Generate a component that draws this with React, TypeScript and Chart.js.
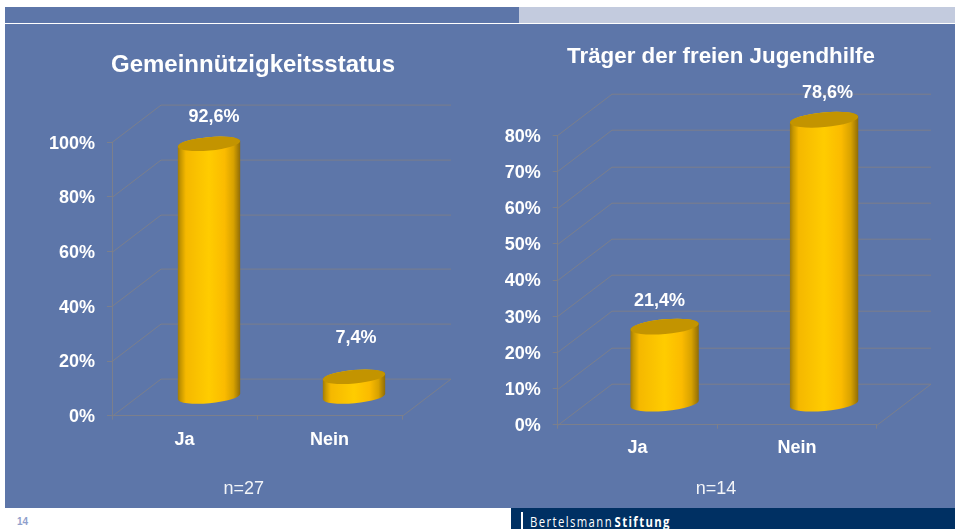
import React, { useEffect, useRef } from "react";
import { Chart, registerables } from "chart.js";

Chart.register(...registerables);

const categories = ["Ja", "Nein"];
const statusTitle = "Gemeinnützigkeitsstatus";
const statusValues = [92.6, 7.4];
const statusMax = 100;
const statusStep = 20;
const statusN = "n=27";
const traegerTitle = "Träger der freien Jugendhilfe";
const traegerValues = [21.4, 78.6];
const traegerMax = 80;
const traegerStep = 10;
const traegerN = "n=14";

const FONT = '"Liberation Sans", Arial, sans-serif';
const GRID = "#7b7f8c";
const WHITE = "#ffffff";

type Panel = {
  title: string;
  titleSize: number;
  values: number[];
  max: number;
  step: number;
  left: number;
  width: number;
  axisWidth: number;
  rightPad: number;
  xAxisHeight: number;
  xLabelPad: number;
  titleTop: number;
  titleBottom: number;
  dx: number;
  dy: number;
  barWidth: number;
  labelNudge: number[][];
};

const panelA: Panel = {
  title: statusTitle, titleSize: 24, values: statusValues, max: statusMax, step: statusStep,
  left: 5, width: 496, axisWidth: 107, rightPad: 99, xAxisHeight: 113.3, xLabelPad: 10,
  titleTop: 51, titleBottom: 62.5, dx: 49, dy: 37.4, barWidth: 61,
  labelNudge: [[5, -27], [2, -39]],
};
const panelB: Panel = {
  title: traegerTitle, titleSize: 22.35, values: traegerValues, max: traegerMax, step: traegerStep,
  left: 487, width: 468, axisWidth: 70.7, rightPad: 78.3, xAxisHeight: 104.3, xLabelPad: 9,
  titleTop: 43, titleBottom: 65.5, dx: 54.3, dy: 41.3, barWidth: 67,
  labelNudge: [[-5, -26], [3.5, -27]],
};

const depthPlugin = {
  id: "depth",
  beforeDatasetsDraw(chart: any, _a: any, o: any) {
    const { ctx } = chart;
    const xs = chart.scales.x;
    const ys = chart.scales.y;
    ctx.save();
    ctx.strokeStyle = GRID;
    ctx.lineWidth = 1;
    ctx.beginPath();
    ys.ticks.forEach((_t: any, i: number) => {
      const y = Math.round(ys.getPixelForTick(i)) + 0.5;
      ctx.moveTo(xs.left, y);
      ctx.lineTo(xs.left + o.dx, y - o.dy);
      ctx.lineTo(xs.right + o.dx, y - o.dy);
    });
    const y0 = Math.round(ys.bottom) + 0.5;
    ctx.moveTo(xs.right, y0);
    ctx.lineTo(xs.right + o.dx, y0 - o.dy);
    ctx.stroke();
    ctx.restore();
  },
  beforeDatasetDraw(chart: any, args: any, o: any) {
    const { ctx } = chart;
    const meta = chart.getDatasetMeta(args.index);
    meta.data.forEach((el: any) => {
      const { x, y, base, width } = el.getProps(["x", "y", "base", "width"], true);
      const cx = x + o.dx / 2;
      const top = y - o.dy / 2;
      const bottom = base - o.dy / 2;
      const rx = width / 2 + 0.8;
      const ry = width * 0.11;
      const rot = -0.09;
      const l = cx - rx;
      const g = ctx.createLinearGradient(l, 0, l + 2 * rx, 0);
      g.addColorStop(0, "#a07a08");
      g.addColorStop(0.05, "#c89800");
      g.addColorStop(0.13, "#f5b800");
      g.addColorStop(0.5, "#ffcc00");
      g.addColorStop(0.75, "#fbbb00");
      g.addColorStop(0.89, "#d8a200");
      g.addColorStop(1, "#8f6c08");
      ctx.save();
      ctx.beginPath();
      ctx.ellipse(cx, bottom, rx, ry, rot, 0, Math.PI);
      ctx.ellipse(cx, top, rx, ry, rot, Math.PI, Math.PI * 2);
      ctx.closePath();
      ctx.fillStyle = g;
      ctx.fill();
      ctx.beginPath();
      ctx.ellipse(cx, top, rx, ry, rot, 0, Math.PI * 2);
      ctx.fillStyle = el.options.backgroundColor;
      ctx.fill();
      ctx.restore();
    });
    return false;
  },
  afterDatasetsDraw(chart: any, _a: any, o: any) {
    const { ctx } = chart;
    const meta = chart.getDatasetMeta(0);
    ctx.save();
    ctx.font = `bold 18px ${FONT}`;
    ctx.fillStyle = WHITE;
    ctx.textAlign = "center";
    ctx.textBaseline = "middle";
    meta.data.forEach((el: any, i: number) => {
      const text = chart.data.datasets[0].data[i].toFixed(1).replace(".", ",") + "%";
      const [nx, ny] = o.labelNudge[i];
      ctx.fillText(text, el.x + o.dx / 2 + nx, el.y - o.dy / 2 + ny);
    });
    ctx.restore();
  },
};

function build(canvas: HTMLCanvasElement, p: Panel) {
  return new Chart(canvas, {
    type: "bar",
    data: {
      labels: categories,
      datasets: [{ data: p.values, backgroundColor: "#c39400", barThickness: p.barWidth, clip: false as any }],
    },
    plugins: [depthPlugin as any],
    options: {
      responsive: false,
      animation: false,
      layout: { padding: 0 },
      plugins: {
        legend: { display: false },
        tooltip: { enabled: false },
        title: {
          display: true,
          text: p.title,
          color: WHITE,
          font: { family: FONT, size: p.titleSize, weight: "bold", lineHeight: 1.2 },
          padding: { top: p.titleTop, bottom: p.titleBottom },
        },
        depth: { dx: p.dx, dy: p.dy, labelNudge: p.labelNudge },
      } as any,
      scales: {
        x: {
          afterFit: (s: any) => { s.height = p.xAxisHeight; },
          grid: { offset: true, drawOnChartArea: false, color: GRID, tickLength: 4 },
          border: { color: GRID },
          ticks: { color: WHITE, padding: p.xLabelPad, font: { family: FONT, size: 18, weight: "bold" } },
        },
        y: {
          min: 0,
          max: p.max,
          afterFit: (s: any) => { s.width = p.axisWidth; },
          grid: { drawOnChartArea: false, color: GRID, tickLength: 5 },
          border: { color: GRID },
          ticks: {
            stepSize: p.step,
            color: WHITE,
            padding: 12,
            labelOffset: 1.5,
            font: { family: FONT, size: 18, weight: "bold" },
            callback: (v: any) => `${v}%`,
          },
        },
        depthGutter: {
          position: "right",
          afterFit: (s: any) => { s.width = p.rightPad; },
          grid: { display: false },
          border: { display: false },
          ticks: { display: false },
        },
      },
    },
  });
}

const box = (left: number, top: number, width: number, height: number, background: string): React.CSSProperties => ({
  position: "absolute", left, top, width, height, background,
});

const noteStyle = (centerX: number): React.CSSProperties => ({
  position: "absolute", left: centerX - 50, width: 100, top: 478, textAlign: "center",
  font: `18px ${FONT}`, lineHeight: "21px", color: "#f2f4f8",
});

export default function App() {
  const a = useRef<HTMLCanvasElement>(null);
  const b = useRef<HTMLCanvasElement>(null);
  useEffect(() => {
    const c1 = build(a.current!, panelA);
    const c2 = build(b.current!, panelB);
    return () => { c1.destroy(); c2.destroy(); };
  }, []);
  return (
    <div style={{ position: "absolute", left: 0, top: 0, width: 955, height: 529, overflow: "hidden", background: "#fff" }}>
      <div style={box(5, 7, 514, 16, "#5d76a9")} />
      <div style={box(519, 7, 436, 16, "#c3cbde")} />
      <div style={box(5, 24, 950, 484, "#5d76a9")} />
      <div style={box(511, 508, 444, 21, "#003063")} />
      <div style={box(521, 512, 2, 17, "#fff")} />
      <div style={{ position: "absolute", left: 17, top: 516, font: `bold 10px ${FONT}`, color: "#8fa0cc" }}>14</div>
      <div style={{ position: "absolute", left: 530, top: 512.5, font: `14.5px "Open Sans"`, lineHeight: "17px", letterSpacing: "1.8px", color: "#fff", whiteSpace: "nowrap", transform: "scaleX(0.78)", transformOrigin: "left top" }}>
        Bertelsmann<b style={{ marginLeft: 2 }}>Stiftung</b>
      </div>
      <canvas ref={a} width={panelA.width} height={529} style={{ position: "absolute", left: panelA.left, top: 0 }} />
      <canvas ref={b} width={panelB.width} height={529} style={{ position: "absolute", left: panelB.left, top: 0 }} />
      <div style={noteStyle(243.7)}>{statusN}</div>
      <div style={noteStyle(716)}>{traegerN}</div>
    </div>
  );
}
